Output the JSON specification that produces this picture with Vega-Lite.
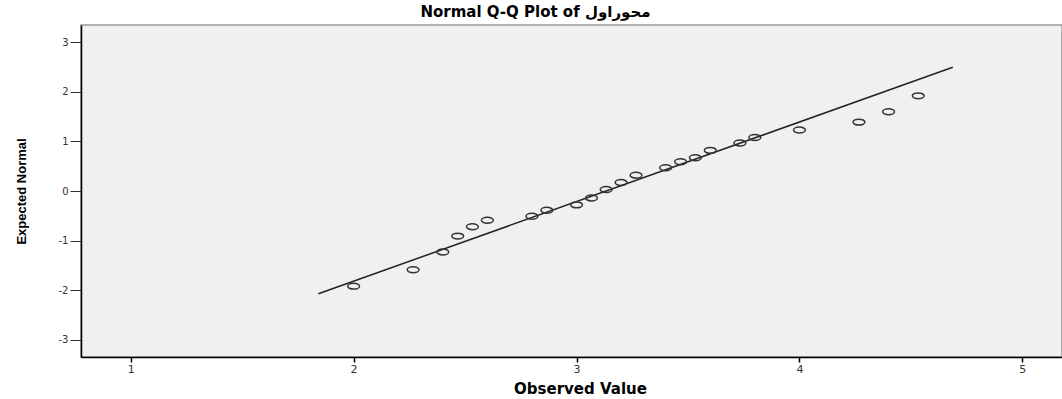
{
  "$schema": "https://vega.github.io/schema/vega-lite/v6.json",
  "autosize": "none",
  "width": 981,
  "height": 332,
  "padding": {"left": 81, "top": 25, "right": 0, "bottom": 42},
  "background": "white",
  "title": {
    "text": "Normal Q-Q Plot of محوراول",
    "font": "DejaVu Sans",
    "fontWeight": "bold",
    "fontSize": 15,
    "color": "#000000",
    "anchor": "middle",
    "dx": -36,
    "offset": 5
  },
  "config": {
    "view": {"fill": "#f0f0f0", "stroke": "#999999", "strokeWidth": 1.5},
    "axis": {"grid": false}
  },
  "datasets": {
    "pts": [
      {"observed": 2.0, "expected": -1.92},
      {"observed": 2.267, "expected": -1.59},
      {"observed": 2.4, "expected": -1.23},
      {"observed": 2.467, "expected": -0.91},
      {"observed": 2.533, "expected": -0.72},
      {"observed": 2.6, "expected": -0.59},
      {"observed": 2.8, "expected": -0.51},
      {"observed": 2.867, "expected": -0.39},
      {"observed": 3.0, "expected": -0.28},
      {"observed": 3.067, "expected": -0.14},
      {"observed": 3.133, "expected": 0.03},
      {"observed": 3.2, "expected": 0.17},
      {"observed": 3.267, "expected": 0.32},
      {"observed": 3.4, "expected": 0.47},
      {"observed": 3.467, "expected": 0.59},
      {"observed": 3.533, "expected": 0.67},
      {"observed": 3.6, "expected": 0.82},
      {"observed": 3.733, "expected": 0.97},
      {"observed": 3.8, "expected": 1.08},
      {"observed": 4.0, "expected": 1.23},
      {"observed": 4.267, "expected": 1.39},
      {"observed": 4.4, "expected": 1.60},
      {"observed": 4.533, "expected": 1.92}
    ],
    "ref": [
      {"observed": 1.842, "expected": -2.074},
      {"observed": 4.688, "expected": 2.497}
    ]
  },
  "layer": [
    {
      "data": {"name": "ref"},
      "mark": {"type": "line", "color": "#222222", "strokeWidth": 1.5},
      "encoding": {
        "x": {"field": "observed", "type": "quantitative"},
        "y": {"field": "expected", "type": "quantitative"}
      }
    },
    {
      "data": {"name": "pts"},
      "mark": {
        "type": "point",
        "shape": "M -1 0 A 1 0.5 0 1 0 1 0 A 1 0.5 0 1 0 -1 0 Z",
        "filled": false,
        "stroke": "#333333",
        "strokeWidth": 1.5,
        "size": 140,
        "opacity": 1
      },
      "encoding": {
        "x": {
          "field": "observed",
          "type": "quantitative",
          "scale": {"domain": [0.777, 5.178], "nice": false, "zero": false},
          "axis": {
            "title": "Observed Value",
            "values": [1, 2, 3, 4, 5],
            "labelExpr": "'' + datum.value",
            "domainColor": "#000000",
            "domainWidth": 1.5,
            "tickColor": "#000000",
            "tickWidth": 1.5,
            "tickSize": 5,
            "labelPadding": 1,
            "labelFont": "DejaVu Sans",
            "labelFontSize": 11,
            "labelColor": "#333333",
            "titleFont": "DejaVu Sans",
            "titleFontWeight": "bold",
            "titleFontSize": 15,
            "titleColor": "#000000",
            "titleX": 499,
            "titleY": 36,
            "titleBaseline": "alphabetic",
            "titleAlign": "center"
          }
        },
        "y": {
          "field": "expected",
          "type": "quantitative",
          "scale": {"domain": [-3.35, 3.35], "nice": false, "zero": false},
          "axis": {
            "title": "Expected Normal",
            "values": [-3, -2, -1, 0, 1, 2, 3],
            "labelExpr": "'' + datum.value",
            "domainColor": "#000000",
            "domainWidth": 1.5,
            "tickColor": "#333333",
            "tickWidth": 1,
            "tickSize": 11,
            "labelPadding": 2,
            "labelFont": "DejaVu Sans",
            "labelFontSize": 10,
            "labelColor": "#333333",
            "titleFont": "Liberation Sans",
            "titleFontWeight": "bold",
            "titleFontSize": 13,
            "titleColor": "#000000",
            "titleAngle": -90,
            "titleX": -60,
            "titleY": 166,
            "titleAlign": "center",
            "titleBaseline": "middle"
          }
        }
      }
    }
  ]
}
